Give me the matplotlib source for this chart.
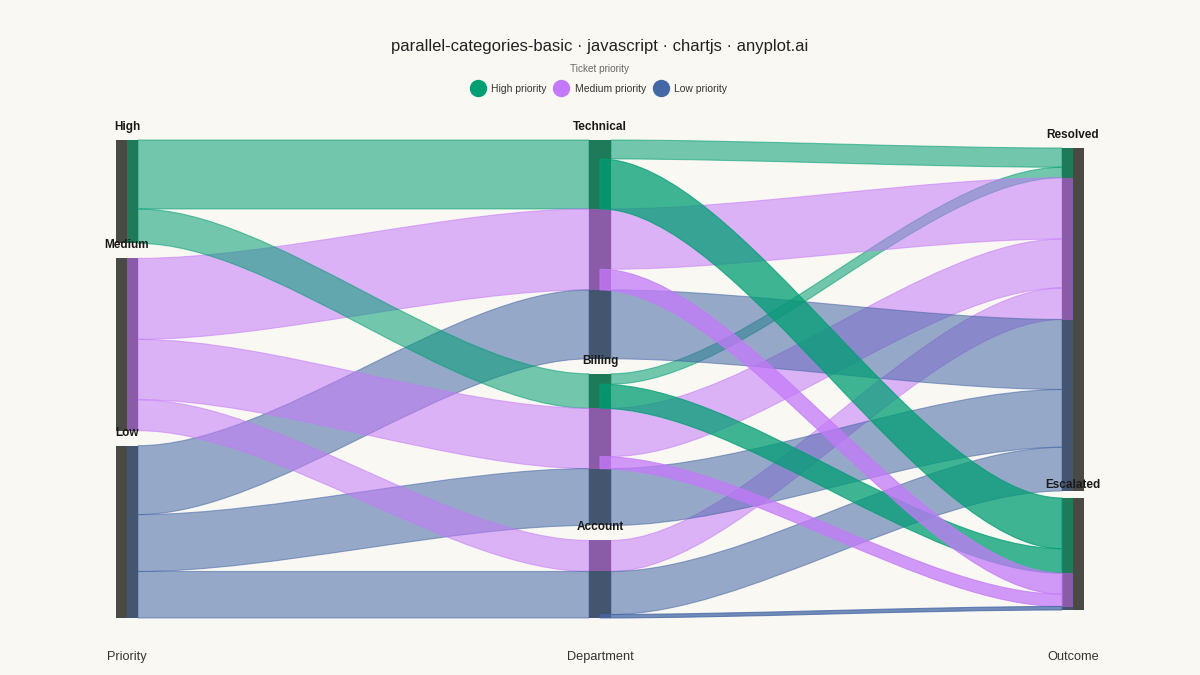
import matplotlib.pyplot as plt
from matplotlib.patches import PathPatch, Rectangle
from matplotlib.path import Path
from matplotlib.lines import Line2D

plt.rcParams['font.family'] = ['Liberation Sans', 'DejaVu Sans']

# categories on the three axes
axis_names = ["Priority", "Department", "Outcome"]
priorities = ["High", "Medium", "Low"]
departments = ["Technical", "Billing", "Account"]
outcomes = ["Resolved", "Escalated"]
legend_labels = ["High priority", "Medium priority", "Low priority"]

# ticket counts per priority / department / outcome
flow_priority = ["High", "High", "High", "High",
                 "Medium", "Medium", "Medium", "Medium", "Medium",
                 "Low", "Low", "Low", "Low"]
flow_department = ["Technical", "Technical", "Billing", "Billing",
                   "Technical", "Technical", "Billing", "Billing", "Account",
                   "Technical", "Billing", "Account", "Account"]
flow_outcome = ["Resolved", "Escalated", "Resolved", "Escalated",
                "Resolved", "Escalated", "Resolved", "Escalated", "Resolved",
                "Resolved", "Resolved", "Resolved", "Escalated"]
flow_count = [11, 29, 6, 14,
              35, 12, 28, 7, 18,
              40, 33, 25, 2]

colors = {"High": "#009E73", "Medium": "#C479FA", "Low": "#4467A6"}
bar_colors = {"High": "#1f7a5a", "Medium": "#8a5ca8", "Low": "#44556f"}
dark = "#4a4a44"
bg = "#faf8f2"

fig = plt.figure(figsize=(12, 6.75), dpi=100, facecolor=bg)
ax = fig.add_axes([0, 0, 1, 1])
ax.set_facecolor(bg)
ax.set_xlim(0, 1200)
ax.set_ylim(675, 0)
ax.axis('off')

axis_x = [127, 600, 1073]
half = 11
layout = [(140, 618, 15), (140, 618, 15), (148, 610, 7)]
levels = [priorities, departments, outcomes]
total = sum(flow_count)


def totals(key_list, cats):
    return {c: sum(n for k, n in zip(key_list, flow_count) if k == c) for c in cats}


keys = [flow_priority, flow_department, flow_outcome]
node_top = []
scales = []
for i in range(3):
    top, bottom, gap = layout[i]
    sc = (bottom - top - gap * (len(levels[i]) - 1)) / total
    tot = totals(keys[i], levels[i])
    y = top
    pos = {}
    for c in levels[i]:
        pos[c] = y
        y += tot[c] * sc + gap
    node_top.append(pos)
    scales.append(sc)


def ribbon(x0, y0, h0, x1, y1, h1, color, alpha, z):
    c0 = x0 + (x1 - x0) * 0.3
    c1 = x1 - (x1 - x0) * 0.3
    verts = [(x0, y0), (c0, y0), (c1, y1), (x1, y1),
             (x1, y1 + h1), (c1, y1 + h1), (c0, y0 + h0), (x0, y0 + h0), (x0, y0)]
    codes = [Path.MOVETO, Path.CURVE4, Path.CURVE4, Path.CURVE4,
             Path.LINETO, Path.CURVE4, Path.CURVE4, Path.CURVE4, Path.CLOSEPOLY]
    ax.add_patch(PathPatch(Path(verts, codes), facecolor=color, edgecolor=color,
                           lw=0.8, alpha=alpha, zorder=z))


# priority -> department ribbons
agg = {}
for p, d, n in zip(flow_priority, flow_department, flow_count):
    agg[(p, d)] = agg.get((p, d), 0) + n

left_off = dict(node_top[0])
left_y = {}
for p in priorities:
    for d in departments:
        if (p, d) in agg:
            left_y[(p, d)] = left_off[p]
            left_off[p] += agg[(p, d)] * scales[0]

mid_in = dict(node_top[1])
mid_segments = []
for d in departments:
    for p in priorities:
        if (p, d) in agg:
            h1 = agg[(p, d)] * scales[1]
            ribbon(axis_x[0] + half, left_y[(p, d)], agg[(p, d)] * scales[0],
                   axis_x[1] - half, mid_in[d], h1, colors[p], 0.55, 2)
            mid_segments.append((p, mid_in[d], h1))
            mid_in[d] += h1

# department -> outcome ribbons
idx = list(range(len(flow_count)))
mid_out = dict(node_top[1])
start_y = {}
for d in departments:
    for p in priorities:
        for o in outcomes:
            for i in idx:
                if (flow_department[i], flow_priority[i], flow_outcome[i]) == (d, p, o):
                    start_y[i] = mid_out[d]
                    mid_out[d] += flow_count[i] * scales[1]

right_in = dict(node_top[2])
right_segments = []
for o in outcomes:
    for p in priorities:
        for d in departments:
            for i in idx:
                if (flow_department[i], flow_priority[i], flow_outcome[i]) == (d, p, o):
                    h1 = flow_count[i] * scales[2]
                    first = o == outcomes[0]
                    ribbon(axis_x[1] + (half if first else 0), start_y[i],
                           flow_count[i] * scales[1],
                           axis_x[2] - half, right_in[o], h1, colors[p],
                           0.55 if first else 0.75, 2 if first else 4)
                    right_segments.append((p, right_in[o], h1))
                    right_in[o] += h1

# node bars
prio_tot = totals(flow_priority, priorities)
for p in priorities:
    h = prio_tot[p] * scales[0]
    y = node_top[0][p]
    ax.add_patch(Rectangle((axis_x[0] - half, y), half, h, color=dark, zorder=3, lw=0))
    ax.add_patch(Rectangle((axis_x[0], y), half, h, color=bar_colors[p], zorder=3, lw=0))
for p, y, h in mid_segments:
    ax.add_patch(Rectangle((axis_x[1] - half, y), 2 * half, h, color=bar_colors[p],
                           zorder=3, lw=0))
for p, y, h in right_segments:
    ax.add_patch(Rectangle((axis_x[2] - half, y), half, h, color=bar_colors[p],
                           zorder=3, lw=0))
out_tot = totals(flow_outcome, outcomes)
for o in outcomes:
    h = out_tot[o] * scales[2]
    ax.add_patch(Rectangle((axis_x[2], node_top[2][o]), half, h, color=dark,
                           zorder=3, lw=0))

# labels
for i in range(3):
    for c in levels[i]:
        ax.text(axis_x[i], node_top[i][c] - 13, c, ha='center', va='center',
                fontsize=8.5, fontweight='bold', color='#1a1a1a', zorder=6)
    ax.text(axis_x[i], 657, axis_names[i], ha='center', va='center',
            fontsize=9.2, color='#333333')

fig.text(0.5, 1 - 46 / 675, "parallel-categories-basic · javascript · chartjs · anyplot.ai",
         ha='center', va='center', fontsize=12, color='#222222')
fig.text(0.5, 1 - 69 / 675, "Ticket priority", ha='center', va='center',
         fontsize=7.2, color='#666666')

handles = [Line2D([], [], marker='o', ls='', markersize=11.5, color=colors[p])
           for p in priorities]
leg = fig.legend(handles, legend_labels, loc='center', bbox_to_anchor=(0.5, 1 - 89 / 675),
                 ncol=3, frameon=False, fontsize=7.5, handlelength=1.0,
                 handletextpad=0.8, columnspacing=0.9, borderpad=0)
for t in leg.get_texts():
    t.set_color('#333333')

fig.savefig("out.png", dpi=100, facecolor=bg)
